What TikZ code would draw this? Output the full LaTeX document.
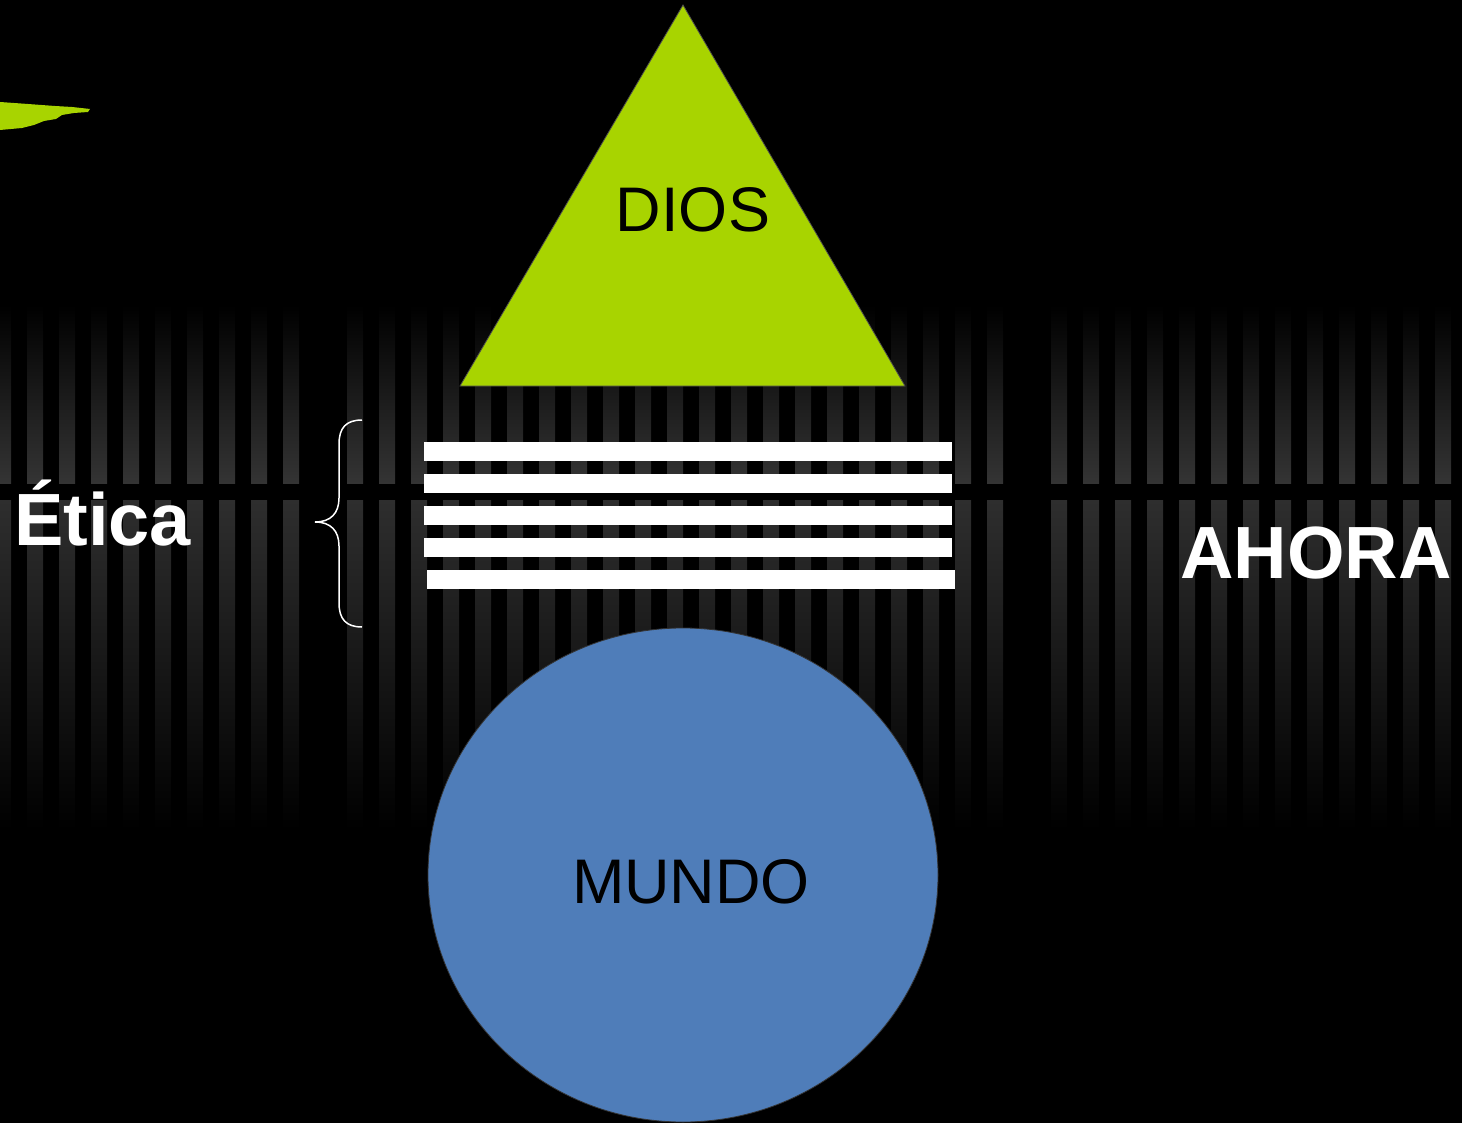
\documentclass[tikz,border=0pt]{standalone}
\usepackage{fontspec}
\setmainfont{Liberation Sans}
\usepackage{tikz}
\usetikzlibrary{positioning}

\definecolor{diosgreen}{RGB}{168,212,0}
\definecolor{mundoblue}{RGB}{79,125,185}
\definecolor{stripegray}{RGB}{52,52,52}
\definecolor{stripelow}{RGB}{46,46,46}

\begin{document}
\begin{tikzpicture}[x=1pt,y=-1pt]
\tikzstyle{upstripe}=[top color=black,bottom color=stripegray,draw=none]
\tikzstyle{lowstripe}=[top color=stripelow,bottom color=black,draw=none]
\tikzstyle{bar}=[fill=white,draw=none]
\tikzstyle{bigword}=[text=white,font=\fontsize{74}{80}\selectfont\bfseries,inner sep=0pt]
\tikzstyle{shapeword}=[text=black,font=\fontsize{63}{69}\selectfont,inner sep=0pt]

\fill[black] (0,0) rectangle (1462,1123);
\useasboundingbox (0,0) rectangle (1462,1123);

% stripes
\foreach \k in {0,...,9,11,12,...,31,33,34,...,45}
{
  \shade[upstripe] ({-5+32*\k},305) rectangle ++(16,178);
  \shade[lowstripe] ({-5+32*\k},500) rectangle ++(16,330);
}

% brush mark
\fill[diosgreen] (0,102) -- (28,104) -- (55,106) -- (72,107) -- (90,109) -- (88,112) -- (74,113) -- (62,115) -- (56,119) -- (44,121) -- (34,125) -- (22,128) -- (0,130) -- cycle;

% triangle
\coordinate (apex) at (683,5);
\coordinate (base_r) at (905,386);
\coordinate (base_l) at (460,386);
\draw[fill=diosgreen,draw=black!70,line width=0.8pt] (apex) -- (base_r) -- (base_l) -- cycle;
\node[shapeword] (dios) at (693,210) {DIOS};

% bars
\foreach \x/\y in {424/442,424/474,424/506,424/538,427/570}
  \fill[bar] (\x,\y) rectangle ++(528,19);

% brace
\coordinate (br_top) at (362,420);
\coordinate (br_tip) at (315,522);
\coordinate (br_bot) at (362,627);
\draw[white,line width=1.5pt] (br_top) .. controls (346,420) and (339,428) .. (339,444) -- (339,498)
  .. controls (339,513) and (331,522) .. (br_tip) .. controls (331,522) and (339,531) .. (339,546)
  -- (339,603) .. controls (339,619) and (346,627) .. (br_bot);

% world
\draw[fill=mundoblue,draw=black!80,line width=0.8pt] (683,875) ellipse [x radius=255, y radius=247];
\node[shapeword] (mundo) at (691,882) {MUNDO};

\node[bigword,anchor=base west] (etica) at (14,545) {Ética};
\node[bigword,anchor=base west] (ahora) at (1180,578) {AHORA};

\end{tikzpicture}
\end{document}
